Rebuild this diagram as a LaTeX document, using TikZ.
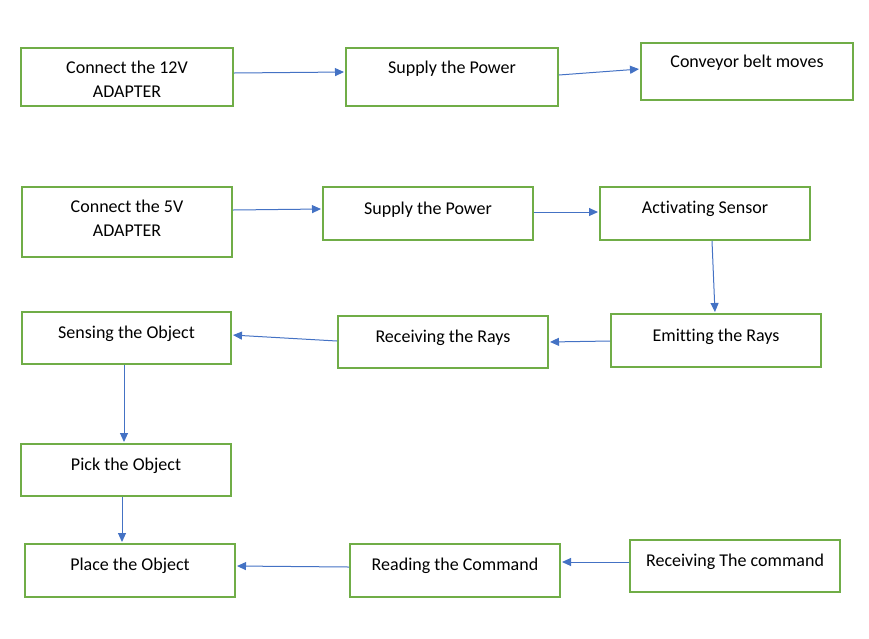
\documentclass[tikz,border=0pt]{standalone}
\usepackage{fontspec}
\setmainfont{Carlito}[Ligatures={NoCommon}]
\usetikzlibrary{arrows.meta}
\definecolor{boxgreen}{HTML}{70AD47}
\definecolor{arrblue}{HTML}{4472C4}
\tikzset{
  box/.style={draw=boxgreen, line width=2pt, fill=white, inner sep=0pt},
  txt/.style={font=\fontsize{18}{24}\selectfont, align=center, inner sep=0pt, text=black},
  conn/.style={draw=arrblue, line width=1pt, -{Triangle[length=9pt,width=8pt]}, shorten >=1pt}
}
\newcommand\mkbox[7]{%
  \node[box, minimum width=#4-#2, minimum height=#5-#3] (#1) at ({(#2+#4)/2},{-(#3+#5)/2}) {};
  \node[txt] (#1-t) at ({(#2+#4)/2},{-#6-2}) {#7};
}
\begin{document}
\begin{tikzpicture}[x=1pt,y=1pt]
\useasboundingbox (0,0) rectangle (869,-638);
\mkbox{a1}{21}{48}{233}{106}{77}{Connect the 12V\\ADAPTER}
\mkbox{a2}{346}{48}{558}{106}{67}{Supply the Power}
\mkbox{a3}{641}{43}{853}{100}{61}{Conveyor belt moves}
\mkbox{b1}{22}{187}{232}{257}{216}{Connect the 5V\\ADAPTER}
\mkbox{b2}{323}{187}{533}{240}{208}{Supply the Power}
\mkbox{b3}{600}{187}{810}{240}{207}{Activating Sensor}
\mkbox{c1}{611}{314}{821}{367}{335}{Emitting the Rays}
\mkbox{c2}{338}{316}{548}{368}{336}{Receiving the Rays}
\mkbox{c3}{22}{312}{231}{364}{332}{Sensing the Object}
\mkbox{d1}{21}{444}{231}{496}{464}{Pick the Object}
\mkbox{e1}{25}{544}{235}{597}{564}{Place the Object}
\mkbox{e2}{350}{544}{560}{597}{564}{Reading the Command}
\mkbox{e3}{630}{540}{840}{592}{560}{Receiving The command}
\draw[conn] (a1.east |- 0,-73) -- (a2.west |- 0,-72);
\draw[conn] (a2.east |- 0,-75) -- (a3.west |- 0,-69);
\draw[conn] (b1.east |- 0,-210) -- (b2.west |- 0,-209);
\draw[conn] (b2.east |- 0,-212) -- (b3.west |- 0,-212);
\draw[conn] (b3.south -| 712,0) -- (c1.north -| 715,0);
\draw[conn] (c1.west |- 0,-341) -- (c2.east |- 0,-342);
\draw[conn] (c2.west |- 0,-341) -- (c3.east |- 0,-335);
\draw[conn] (c3.south -| 124,0) -- (d1.north -| 124,0);
\draw[conn] (d1.south -| 122,0) -- (e1.north -| 122,0);
\draw[conn] (e2.west |- 0,-567) -- (e1.east |- 0,-566);
\draw[conn] (e3.west |- 0,-562) -- (e2.east |- 0,-562);
\end{tikzpicture}
\end{document}
